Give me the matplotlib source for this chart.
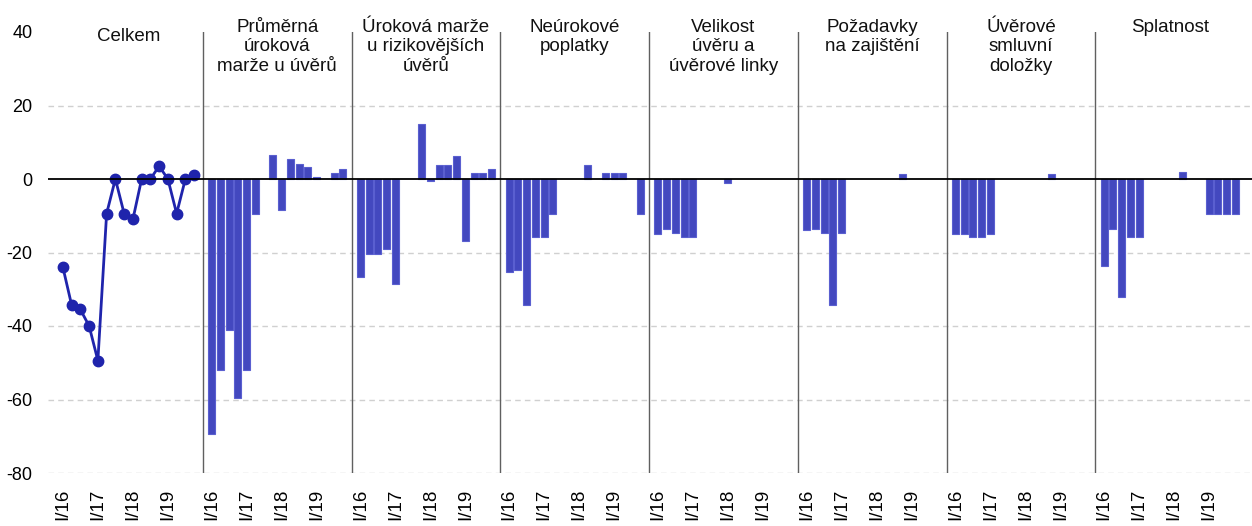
import matplotlib
matplotlib.use("Agg")
import matplotlib.pyplot as plt
import numpy as np

plt.rcParams['font.family'] = ['Liberation Sans', 'DejaVu Sans']

panel_titles = ["Celkem", "Průměrná\núroková\nmarže u úvěrů", "Úroková marže\nu rizikovějších\núvěrů",
                "Neúrokové\npoplatky", "Velikost\núvěru a\núvěrové linky", "Požadavky\nna zajištění",
                "Úvěrové\nsmluvní\ndoložky", "Splatnost"]

tick_labels = ["I/16", "I/17", "I/18", "I/19"]

celkem = [-24, -34.3, -35.5, -40, -49.4, -9.4, 0, -9.4, -11, 0, 0, 3.5, 0, -9.4, 0, 1.0]
prumerna_marze = [-69.5, -51.9, -41.2, -59.7, -51.9, -9.4, 0, 6.4, -8.3, 5.5, 4.1, 3.3, 0.6, 0, 1.7, 2.6]
marze_rizikovejsi = [-26.6, -20.3, -20.3, -19.1, -28.6, 0, 0, 15.0, -0.6, 3.8, 3.9, 6.2, -16.9, 1.7, 1.7, 2.6]
neurokove_poplatky = [-25.4, -24.8, -34.3, -15.7, -15.7, -9.4, 0, 0, 0, 3.7, 0, 1.7, 1.7, 1.7, 0, -9.4]
velikost_uveru = [-15.1, -13.5, -14.6, -15.7, -15.7, 0, 0, 0, -1.2, 0, 0, 0, 0, 0, 0, 0]
pozadavky_zajisteni = [-14.0, -13.5, -14.6, -34.3, -14.6, 0, 0, 0, 0, 0, 0, 1.4, 0, 0, 0, 0]
smluvni_dolozky = [-15.1, -15.1, -15.7, -15.7, -15.1, 0, 0, 0, 0, 0, 0, 1.4, 0, 0, 0, 0]
splatnost = [-23.8, -13.5, -32.0, -15.7, -15.7, 0, 0, 0, 0, 1.8, 0, 0, -9.4, -9.4, -9.4, -9.4]

bar_series = [prumerna_marze, marze_rizikovejsi, neurokove_poplatky, velikost_uveru,
              pozadavky_zajisteni, smluvni_dolozky, splatnost]

n_q = 16
slot = n_q + 1

fig = plt.figure(figsize=(12.52, 5.26), dpi=100)
ax = fig.add_axes([48 / 1252, 1 - 473 / 526, 1 - 48 / 1252, (473 - 32) / 526])

bar_color = '#4348bf'
edge_color = '#5a5fd0'

# Celkem line
x0 = np.arange(n_q) + 1
ax.plot(x0, celkem, color='#1f24ac', lw=2, marker='o', ms=7.5, zorder=4)

for p, vals in enumerate(bar_series, start=1):
    xs = p * slot + 1 + np.arange(n_q)
    v = np.array(vals, dtype=float)
    mask = v != 0
    ax.bar(xs[mask], v[mask], width=0.8, color=bar_color, edgecolor=edge_color, linewidth=0.8, zorder=3)

# grid lines
for g in [20, -20, -40, -60, -80]:
    ax.axhline(g, color='#d0d0d0', lw=1, ls=(0, (4, 3)), zorder=1)
ax.axhline(0, color='black', lw=1.3, zorder=5)

# separators
for p in range(1, 8):
    ax.plot([p * slot, p * slot], [-80, 40], color='#606060', lw=1, zorder=2)

# titles
for p, t in enumerate(panel_titles):
    cx = p * slot + slot / 2
    ty = 43.6 if p > 0 else 41.2
    ax.text(cx, ty, t, ha='center', va='top', fontsize=13.5, linespacing=1.2, color='#111111', zorder=6)

ticks = []
labels = []
for p in range(8):
    for k, lab in enumerate(tick_labels):
        ticks.append(p * slot + 1 + 4 * k)
        labels.append(lab)
ax.set_xticks(ticks)
ax.set_xticklabels(labels, rotation=90, fontsize=13.5)
ax.tick_params(axis='x', length=0, pad=11)
ax.set_yticks([40, 20, 0, -20, -40, -60, -80])
ax.set_yticklabels(["40", "20", "0", "-20", "-40", "-60", "-80"], fontsize=13)
ax.tick_params(axis='y', length=0, pad=11)

ax.set_xlim(-0.7, 136.9)
ax.set_ylim(-80, 40)
for s in ax.spines.values():
    s.set_visible(False)

fig.savefig("out.png", dpi=100)
